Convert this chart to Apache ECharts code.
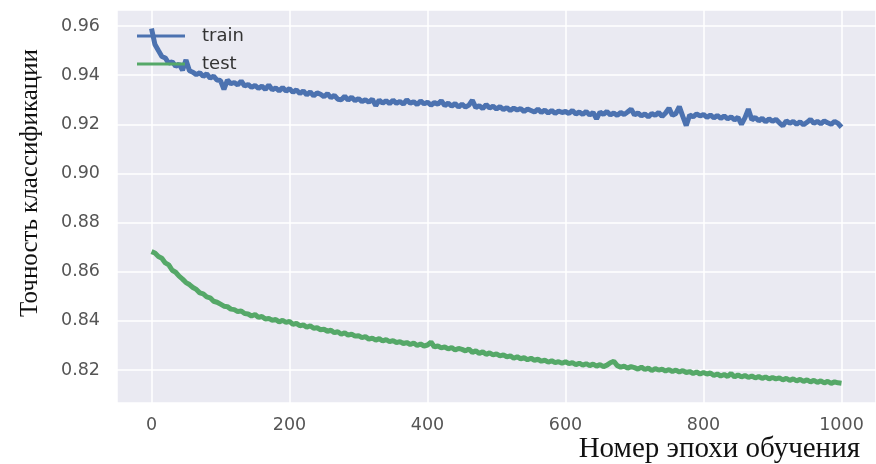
<!DOCTYPE html>
<html>
<head>
<meta charset="utf-8">
<script src="https://cdn.jsdelivr.net/npm/echarts@6/dist/echarts.min.js"></script>
<style>
  html, body { margin: 0; padding: 0; background: #fff; }
</style>
</head>
<body>
<div id="main" style="width: 876px;height:464px;"></div>

<script type="text/javascript">
  // точность через каждые 5 эпох, от 0 до 1000
  var epochStep = 5;

  var train = [
    0.9590, 0.9525, 0.9500, 0.9476, 0.9470, 0.9448, 0.9455, 0.9436, 0.9445, 0.9420,
    0.9462, 0.9418, 0.9412, 0.9402, 0.9410, 0.9395, 0.9405, 0.9388, 0.9396, 0.9380,
    0.9378, 0.9342, 0.9380, 0.9365, 0.9370, 0.9360, 0.9376, 0.9356, 0.9362, 0.9350,
    0.9358, 0.9346, 0.9355, 0.9342, 0.9360, 0.9340, 0.9348, 0.9336, 0.9350, 0.9335,
    0.9345, 0.9330, 0.9340, 0.9325, 0.9336, 0.9320, 0.9332, 0.9316, 0.9328, 0.9322,
    0.9312, 0.9325, 0.9308, 0.9318, 0.9302, 0.9300, 0.9314, 0.9298, 0.9310, 0.9296,
    0.9305, 0.9292, 0.9300, 0.9290, 0.9302, 0.9276, 0.9298, 0.9286, 0.9296, 0.9284,
    0.9298, 0.9285, 0.9293, 0.9282, 0.9300, 0.9286, 0.9292, 0.9280, 0.9295, 0.9283,
    0.9290, 0.9278, 0.9288, 0.9282, 0.9296, 0.9276, 0.9286, 0.9274, 0.9284, 0.9270,
    0.9282, 0.9270, 0.9278, 0.9298, 0.9268, 0.9276, 0.9264, 0.9280, 0.9266, 0.9274,
    0.9262, 0.9272, 0.9260, 0.9268, 0.9256, 0.9266, 0.9258, 0.9264, 0.9252, 0.9262,
    0.9256, 0.9250, 0.9262, 0.9248, 0.9258, 0.9246, 0.9256, 0.9244, 0.9254, 0.9248,
    0.9252, 0.9244, 0.9256, 0.9242, 0.9250, 0.9240, 0.9252, 0.9238, 0.9248, 0.9222,
    0.9250, 0.9240, 0.9252, 0.9238, 0.9246, 0.9236, 0.9248, 0.9240, 0.9250, 0.9262,
    0.9238, 0.9246, 0.9234, 0.9242, 0.9230, 0.9244, 0.9236, 0.9248, 0.9232, 0.9246,
    0.9266, 0.9236, 0.9244, 0.9272, 0.9232, 0.9195, 0.9238, 0.9230, 0.9242, 0.9234,
    0.9240, 0.9228, 0.9238, 0.9226, 0.9236, 0.9224, 0.9234, 0.9222, 0.9230, 0.9218,
    0.9228, 0.9200, 0.9226, 0.9262, 0.9218, 0.9228, 0.9214, 0.9224, 0.9210, 0.9222,
    0.9212, 0.9220, 0.9206, 0.9194, 0.9214, 0.9204, 0.9212, 0.9200, 0.9210, 0.9198,
    0.9208, 0.9220, 0.9204, 0.9212, 0.9202, 0.9214, 0.9206, 0.9200, 0.9212, 0.9204,
    0.9188];

  var test = [
    0.8682, 0.8676, 0.8662, 0.8655, 0.8636, 0.8628, 0.8606, 0.8598, 0.8582, 0.8570,
    0.8556, 0.8548, 0.8536, 0.8528, 0.8514, 0.8510, 0.8498, 0.8494, 0.8480, 0.8476,
    0.8468, 0.8460, 0.8458, 0.8448, 0.8446, 0.8438, 0.8440, 0.8430, 0.8428, 0.8420,
    0.8426, 0.8414, 0.8418, 0.8408, 0.8410, 0.8402, 0.8406, 0.8396, 0.8402, 0.8394,
    0.8398, 0.8386, 0.8390, 0.8380, 0.8384, 0.8374, 0.8380, 0.8370, 0.8372, 0.8364,
    0.8366, 0.8358, 0.8362, 0.8352, 0.8356, 0.8346, 0.8352, 0.8342, 0.8346, 0.8338,
    0.8340, 0.8332, 0.8336, 0.8326, 0.8330, 0.8322, 0.8328, 0.8318, 0.8324, 0.8316,
    0.8320, 0.8312, 0.8316, 0.8308, 0.8312, 0.8304, 0.8310, 0.8300, 0.8306, 0.8298,
    0.8302, 0.8314, 0.8294, 0.8298, 0.8290, 0.8294, 0.8286, 0.8292, 0.8282, 0.8288,
    0.8284, 0.8278, 0.8286, 0.8272, 0.8278, 0.8268, 0.8274, 0.8264, 0.8270, 0.8262,
    0.8266, 0.8258, 0.8262, 0.8254, 0.8258, 0.8248, 0.8254, 0.8246, 0.8250, 0.8242,
    0.8248, 0.8240, 0.8244, 0.8236, 0.8240, 0.8232, 0.8238, 0.8230, 0.8234, 0.8228,
    0.8234, 0.8226, 0.8230, 0.8222, 0.8228, 0.8220, 0.8226, 0.8218, 0.8224, 0.8216,
    0.8222, 0.8214, 0.8220, 0.8230, 0.8236, 0.8218, 0.8212, 0.8216, 0.8208, 0.8214,
    0.8210, 0.8204, 0.8212, 0.8202, 0.8208, 0.8198, 0.8206, 0.8200, 0.8204, 0.8196,
    0.8202, 0.8194, 0.8200, 0.8192, 0.8198, 0.8190, 0.8194, 0.8186, 0.8192, 0.8184,
    0.8190, 0.8184, 0.8188, 0.8178, 0.8184, 0.8176, 0.8182, 0.8174, 0.8186, 0.8172,
    0.8180, 0.8172, 0.8178, 0.8170, 0.8176, 0.8168, 0.8174, 0.8166, 0.8172, 0.8164,
    0.8170, 0.8164, 0.8168, 0.8160, 0.8166, 0.8158, 0.8164, 0.8156, 0.8162, 0.8154,
    0.8160, 0.8152, 0.8158, 0.8150, 0.8156, 0.8148, 0.8154, 0.8146, 0.8152, 0.8148,
    0.8146];

  function pairs(ys) {
    return ys.map(function (y, i) { return [i * epochStep, y]; });
  }

  var option = {
    animation: false,
    backgroundColor: '#fff',
    grid: {
      left: 117, top: 10, width: 761, height: 393,
      show: true, backgroundColor: '#EAEAF2', borderWidth: 0
    },
    legend: {
      orient: 'vertical',
      left: 137, top: 27, padding: 0,
      itemWidth: 48, itemHeight: 3, itemGap: 10,
      textStyle: { fontFamily: 'DejaVu Sans', fontSize: 18, color: '#333', padding: [0, 0, 0, 12] },
      data: [{ name: 'train', icon: 'rect' }, { name: 'test', icon: 'rect' }]
    },
    xAxis: {
      type: 'value',
      min: -50, max: 1050, splitNumber: 5,
      axisLine: { show: false }, axisTick: { show: false },
      splitLine: { lineStyle: { color: '#fff', width: 1.5 } },
      axisLabel: {
        showMinLabel: false, showMaxLabel: false, margin: 13,
        fontFamily: 'DejaVu Sans', fontSize: 17.5, color: '#555',
        formatter: function (v) { return String(v); }
      }
    },
    yAxis: {
      type: 'value',
      min: 0.8066, max: 0.9665, splitNumber: 8,
      axisLine: { show: false }, axisTick: { show: false },
      splitLine: { lineStyle: { color: '#fff', width: 1.5 } },
      axisLabel: {
        showMinLabel: false, showMaxLabel: false, margin: 17,
        fontFamily: 'DejaVu Sans', fontSize: 17.5, color: '#555',
        formatter: function (v) { return v.toFixed(2); }
      }
    },
    graphic: [{
      type: 'text', right: 16, top: 435,
      style: { text: 'Номер эпохи обучения', font: '29px "Liberation Serif"', fill: '#111' }
    }, {
      type: 'text', x: 30, y: 183, rotation: Math.PI / 2,
      style: { text: 'Точность классификации', font: '25px "Liberation Serif"', fill: '#111',
        textAlign: 'center', textVerticalAlign: 'middle' }
    }],
    series: [
      { name: 'train', type: 'line', symbol: 'none', data: pairs(train),
        lineStyle: { color: '#4C72B0', width: 5 }, itemStyle: { color: '#4C72B0' } },
      { name: 'test', type: 'line', symbol: 'none', data: pairs(test),
        lineStyle: { color: '#55A868', width: 5 }, itemStyle: { color: '#55A868' } }
    ]
  };
  var myChart = echarts.init(document.getElementById('main'));
  myChart.setOption(option);
</script>
</body>
</html>
